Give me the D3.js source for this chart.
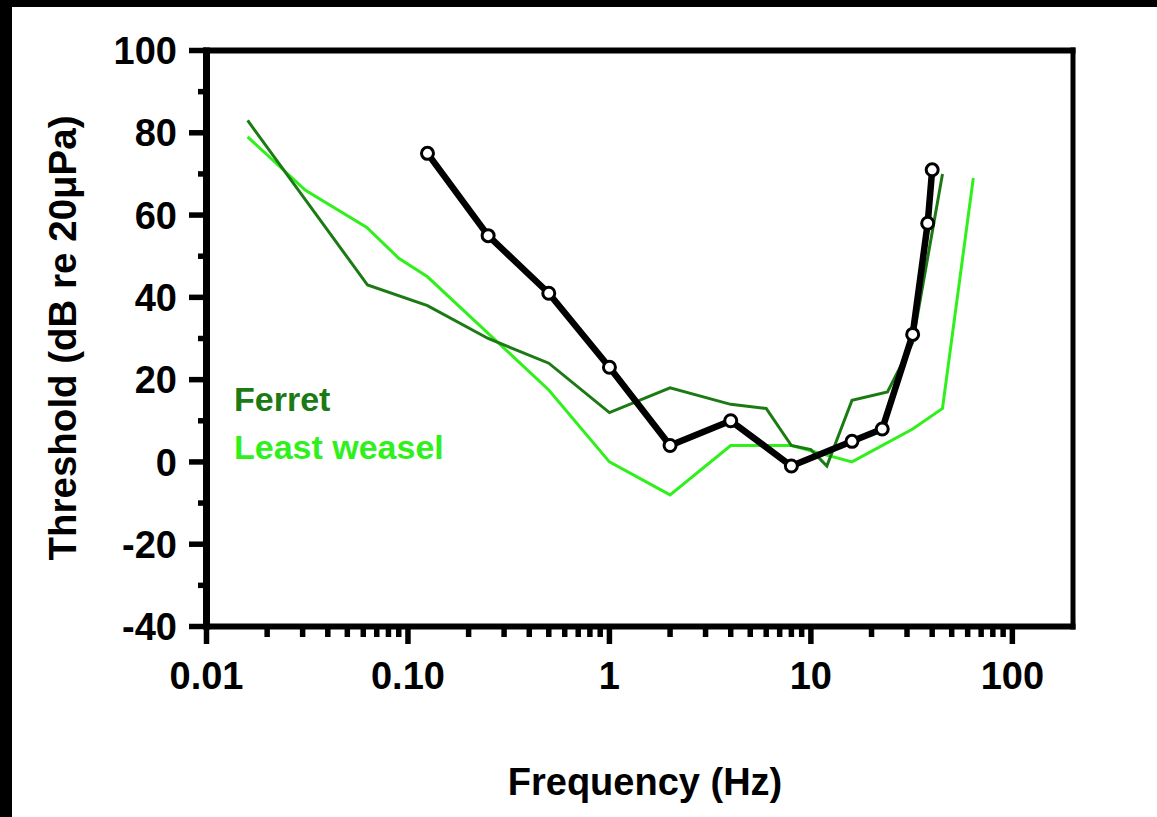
<!DOCTYPE html>
<html>
<head>
<meta charset="utf-8">
<script src="https://cdn.jsdelivr.net/npm/d3@7"></script>
<style>
  html, body { margin: 0; padding: 0; background: #000; }
  svg { display: block; }
  text { font-family: "Liberation Sans", Arial, sans-serif; font-weight: bold; }
</style>
</head>
<body>
<svg id="chart" width="1157" height="817"></svg>
<script>
// ---- Data ----
const blackFreq = [0.125, 0.25, 0.5, 1, 2, 4, 8, 16, 22.6, 32, 38, 40];
const blackThr  = [75, 55, 41, 23, 4, 10, -1, 5, 8, 31, 58, 71];

const ferretFreq = [0.016, 0.063, 0.125, 0.25, 0.5, 1, 2, 4, 6, 8, 10, 12, 16, 24, 32, 45];
const ferretThr  = [83, 43, 38, 30, 24, 12, 18, 14, 13, 4, 3, -1, 15, 17, 29, 70];

const weaselFreq = [0.016, 0.031, 0.0625, 0.09, 0.125, 0.5, 1, 2, 4, 8, 16, 32, 45, 64];
const weaselThr  = [79, 66, 57, 49.5, 45, 17.5, 0, -8, 4, 4, 0, 8, 13, 69];

const yMajorTicks = [-40, -20, 0, 20, 40, 60, 80, 100];
const yMinorTicks = [-30, -10, 10, 30, 50, 70, 90];
const xMajorTicks = [0.01, 0.1, 1, 10, 100];
const xMajorLabels = ["0.01", "0.10", "1", "10", "100"];

const legendNames = ["Ferret", "Least weasel"];
const colors = { ferret: "#1b7a14", weasel: "#30f01c", human: "#000000" };

// ---- Layout ----
const svg = d3.select("#chart");
svg.append("rect").attr("x", 12).attr("y", 7).attr("width", 1157 - 12).attr("height", 817 - 7).attr("fill", "#fff");

const pL = 206.5, pR = 1073, pT = 50.5, pB = 626.5;
const x = d3.scaleLog().domain([0.01, 200]).range([pL, pR]);
const y = d3.scaleLinear().domain([-40, 100]).range([pB, pT]);

// minor x ticks
const xMinor = [];
[0.01, 0.1, 1, 10].forEach(d => { for (let k = 2; k <= 9; k++) xMinor.push(+(d * k).toPrecision(3)); });

const g = svg.append("g");

// Series lines
const line = d3.line().x(d => x(d[0])).y(d => y(d[1]));
function pairs(a, b) { return a.map((v, i) => [v, b[i]]); }

g.append("path").datum(pairs(weaselFreq, weaselThr))
  .attr("d", line).attr("fill", "none").attr("stroke", colors.weasel)
  .attr("stroke-width", 3).attr("stroke-linejoin", "miter");
g.append("path").datum(pairs(ferretFreq, ferretThr))
  .attr("d", line).attr("fill", "none").attr("stroke", colors.ferret)
  .attr("stroke-width", 3).attr("stroke-linejoin", "miter");
g.append("path").datum(pairs(blackFreq, blackThr))
  .attr("d", line).attr("fill", "none").attr("stroke", colors.human)
  .attr("stroke-width", 6.5).attr("stroke-linejoin", "round");
g.selectAll("circle.pt").data(pairs(blackFreq, blackThr)).enter().append("circle")
  .attr("class", "pt")
  .attr("cx", d => x(d[0])).attr("cy", d => y(d[1])).attr("r", 6)
  .attr("fill", "#fff").attr("stroke", "#000").attr("stroke-width", 3);

// Frame
const ax = svg.append("g").attr("stroke", "#000").attr("stroke-linecap", "butt");
ax.append("line").attr("x1", pL).attr("x2", pL).attr("y1", pT - 3).attr("y2", pB + 3).attr("stroke-width", 7);
ax.append("line").attr("x1", pL - 3).attr("x2", pR + 2.5).attr("y1", pB).attr("y2", pB).attr("stroke-width", 6);
ax.append("line").attr("x1", pL - 3).attr("x2", pR + 2.5).attr("y1", pT).attr("y2", pT).attr("stroke-width", 6);
ax.append("line").attr("x1", pR).attr("x2", pR).attr("y1", pT - 3).attr("y2", pB + 3).attr("stroke-width", 5);

// Y axis ticks
ax.selectAll("line.ymaj").data(yMajorTicks).enter().append("line")
  .attr("x1", 189).attr("x2", pL).attr("y1", d => y(d)).attr("y2", d => y(d)).attr("stroke-width", 5.5);
ax.selectAll("line.ymin").data(yMinorTicks).enter().append("line")
  .attr("x1", 198).attr("x2", pL).attr("y1", d => y(d)).attr("y2", d => y(d)).attr("stroke-width", 5.5);

// X axis ticks
ax.selectAll("line.xmaj").data(xMajorTicks).enter().append("line")
  .attr("x1", d => x(d)).attr("x2", d => x(d)).attr("y1", pB).attr("y2", 644).attr("stroke-width", 5.5);
ax.selectAll("line.xmin").data(xMinor).enter().append("line")
  .attr("x1", d => x(d)).attr("x2", d => x(d)).attr("y1", pB).attr("y2", 637).attr("stroke-width", 5.5);

// Tick labels
svg.selectAll("text.yl").data(yMajorTicks).enter().append("text")
  .attr("x", 177).attr("y", d => y(d)).attr("dy", "0.36em")
  .attr("text-anchor", "end").attr("font-size", 38).attr("fill", "#000")
  .text(d => d);
svg.selectAll("text.xl").data(xMajorTicks).enter().append("text")
  .attr("x", d => x(d)).attr("y", 689)
  .attr("text-anchor", "middle").attr("font-size", 38).attr("fill", "#000")
  .text((d, i) => xMajorLabels[i]);

// Axis titles
svg.append("text").attr("x", 645).attr("y", 795).attr("text-anchor", "middle")
  .attr("font-size", 38).attr("fill", "#000").text("Frequency (Hz)");
svg.append("text").attr("transform", "translate(76,338) rotate(-90)")
  .attr("text-anchor", "middle").attr("font-size", 38.5).attr("fill", "#000")
  .text("Threshold (dB re 20μPa)");

// Legend
svg.append("text").attr("x", 234).attr("y", 411).attr("font-size", 34)
  .attr("fill", colors.ferret).text(legendNames[0]);
svg.append("text").attr("x", 234).attr("y", 459).attr("font-size", 34)
  .attr("fill", colors.weasel).text(legendNames[1]);
</script>
</body>
</html>
